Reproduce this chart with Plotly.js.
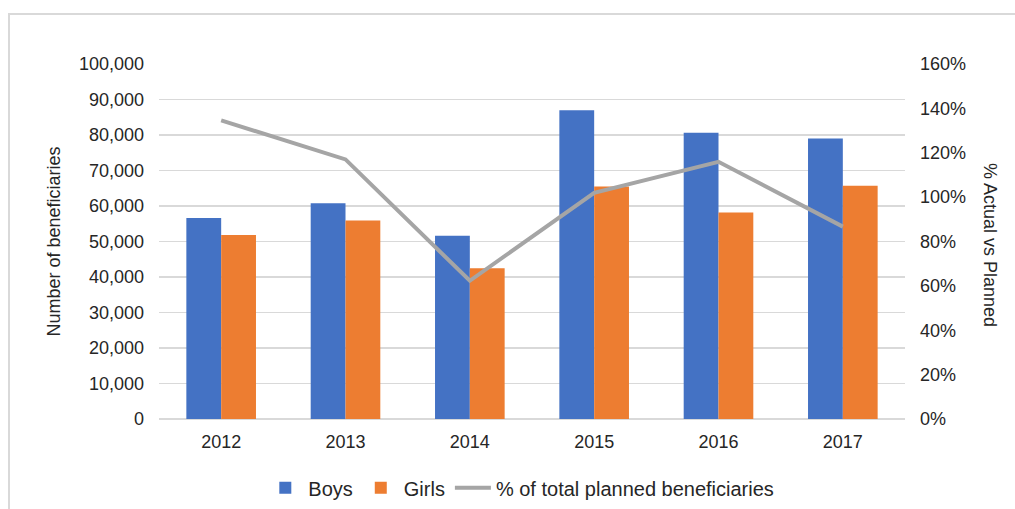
<!DOCTYPE html>
<html>
<head>
<meta charset="utf-8">
<script src="https://cdn.plot.ly/plotly-3.0.1.min.js"></script>
<style>
  body { margin: 0; background: #fff; }
  #frame { position: absolute; left: 8px; top: 13px; width: 1007px; height: 496px;
           border-left: 2px solid #d9d9d9; border-top: 2px solid #d9d9d9; pointer-events: none; z-index: 5; }
  #main-plot { position: absolute; left: 0; top: 0; width: 1015px; height: 509px; }
</style>
</head>
<body>
<div id="main-plot"></div>
<div id="frame"></div>
<script>
  // data
  var years = ['2012', '2013', '2014', '2015', '2016', '2017'];
  var boys = [56600, 60800, 51600, 87000, 80600, 79000];
  var girls = [51800, 55900, 42500, 65500, 58200, 65700];
  var pctPlanned = [1.346, 1.17, 0.623, 1.019, 1.159, 0.867];

  var leftTicks = [0, 10000, 20000, 30000, 40000, 50000, 60000, 70000, 80000, 90000, 100000];
  var rightTicks = [0, 0.2, 0.4, 0.6, 0.8, 1.0, 1.2, 1.4, 1.6];

  var tickFont = { family: 'Liberation Sans, Arial, sans-serif', size: 18, color: '#262626' };
  var legendFont = { family: 'Liberation Sans, Arial, sans-serif', size: 20, color: '#262626' };

  var mainData = [
    {
      type: 'bar',
      name: 'Boys',
      x: years,
      y: boys,
      marker: { color: '#4472C4' },
      hoverinfo: 'none'
    },
    {
      type: 'bar',
      name: 'Girls',
      x: years,
      y: girls,
      marker: { color: '#ED7D31' },
      hoverinfo: 'none'
    },
    {
      type: 'scatter',
      mode: 'lines',
      name: '% of total planned beneficiaries',
      x: years,
      y: pctPlanned,
      yaxis: 'y2',
      line: { color: '#A5A5A5', width: 4 },
      hoverinfo: 'none'
    }
  ];

  var mainLayout = {
    width: 1015,
    height: 509,
    margin: { l: 159, r: 110, t: 64, b: 90, autoexpand: false },
    paper_bgcolor: 'rgba(0,0,0,0)',
    plot_bgcolor: 'rgba(0,0,0,0)',
    barmode: 'group',
    bargap: 0.44,
    bargroupgap: 0,
    font: tickFont,
    xaxis: {
      type: 'category',
      tickfont: tickFont,
      showgrid: false,
      showline: false,
      ticks: '',
      ticklabelstandoff: 10,
      automargin: false
    },
    yaxis: {
      range: [0, 100000],
      tickvals: leftTicks,
      tickformat: ',d',
      tickfont: tickFont,
      gridcolor: '#d9d9d9',
      gridwidth: 1.5,
      zeroline: true,
      zerolinecolor: '#d9d9d9',
      zerolinewidth: 1.5,
      showline: false,
      ticks: '',
      ticklabelstandoff: 14,
      automargin: false
    },
    yaxis2: {
      overlaying: 'y',
      side: 'right',
      range: [0, 1.6],
      tickvals: rightTicks,
      tickformat: '.0%',
      tickfont: tickFont,
      showgrid: false,
      zeroline: false,
      showline: false,
      ticks: '',
      ticklabelstandoff: 14,
      automargin: false
    },
    showlegend: true,
    legend: {
      orientation: 'h',
      x: 0.485,
      xanchor: 'center',
      y: -0.194,
      yanchor: 'middle',
      font: legendFont,
      traceorder: 'normal',
      itemwidth: 36
    },
    annotations: [
      {
        text: 'Number of beneficiaries',
        xref: 'paper', yref: 'paper',
        x: -0.142, y: 0.5,
        xanchor: 'center', yanchor: 'middle',
        textangle: -90,
        showarrow: false,
        font: tickFont
      },
      {
        text: '% Actual vs Planned',
        xref: 'paper', yref: 'paper',
        x: 1.114, y: 0.49,
        xanchor: 'center', yanchor: 'middle',
        textangle: 90,
        showarrow: false,
        font: tickFont
      }
    ]
  };

  Plotly.newPlot('main-plot', mainData, mainLayout, { displayModeBar: false, staticPlot: true });
</script>
</body>
</html>
